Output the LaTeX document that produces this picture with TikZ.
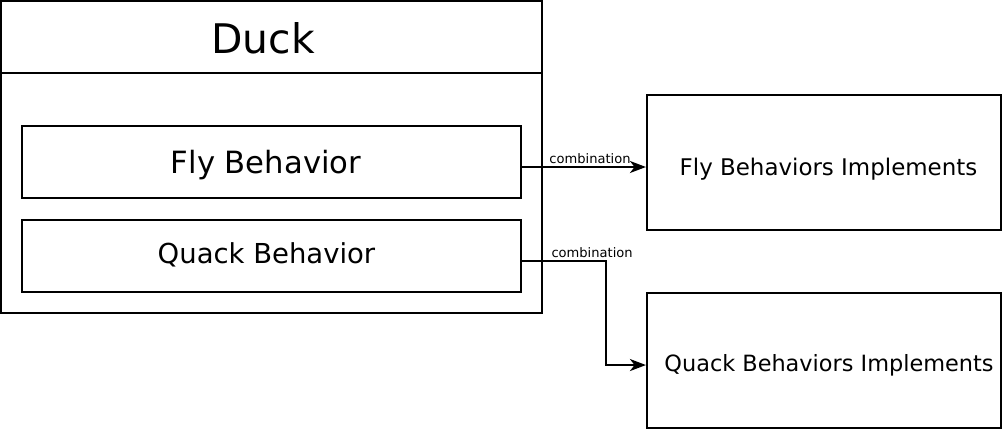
\documentclass[tikz,border=0pt]{standalone}
\usepackage{fontspec}
\setmainfont{DejaVu Sans}
\usetikzlibrary{positioning}
\usetikzlibrary{arrows.meta}
\tikzset{
    mybox/.style = {rectangle, draw=black, line width=1.6pt, inner sep=0pt},
    mytext/.style = {anchor=base, inner sep=0pt},
    edgen/.style = {-{Stealth[length=12pt,width=9pt,inset=3.5pt]}, line width=1.6pt},
    edgelbl/.style = {font=\fontsize{9.8}{11}\selectfont, inner sep=1.5pt}
}

\begin{document}
\begin{tikzpicture}[x=0.75pt,y=-0.75pt]
\useasboundingbox (0,0) rectangle (1002,429);
% duck class
\node[mybox, minimum width=405.75pt, minimum height=54pt] at (271.5, 37) (duckhead) {};
\node[mybox, minimum width=405.75pt, minimum height=180pt] at (271.5, 193) (duckbody) {};
\node[mybox, minimum width=374.25pt, minimum height=54pt] at (271.5, 162) (flybeh) {};
\node[mybox, minimum width=374.25pt, minimum height=54pt] at (271.5, 256) (quackbeh) {};
\node[mytext, font=\fontsize{30.6}{36}\selectfont] at (263, 53) (ducktxt) {Duck};
\node[mytext, font=\fontsize{23}{28}\selectfont] at (266, 173) (flytxt) {Fly Behavior};
\node[mytext, font=\fontsize{20.6}{25}\selectfont] at (266.5, 263) (quacktxt) {Quack Behavior};
% implementations
\node[mybox, minimum width=265.5pt, minimum height=101.25pt] at (824, 162.5) (flyimpl) {};
\node[mybox, minimum width=265.5pt, minimum height=101.25pt] at (824, 360.5) (quackimpl) {};
\node[mytext, font=\fontsize{17.2}{21}\selectfont] at (828.5, 175.5) (flyimpltxt) {Fly Behaviors Implements};
\node[mytext, font=\fontsize{16.8}{21}\selectfont] at (829, 371) (quackimpltxt) {Quack Behaviors Implements};
%
\draw[edgen] ([yshift=-3.75pt]flybeh.east) -- node[edgelbl, above, xshift=4.5pt] {combination} ([yshift=-3.75pt]flybeh.east -| flyimpl.west);
\draw[edgen] ([yshift=-3.75pt]quackbeh.east) -- node[edgelbl, above, xshift=21pt] {combination} ++(84,0) |- ([yshift=-3.4pt]quackimpl.west);
\end{tikzpicture}
\end{document}
